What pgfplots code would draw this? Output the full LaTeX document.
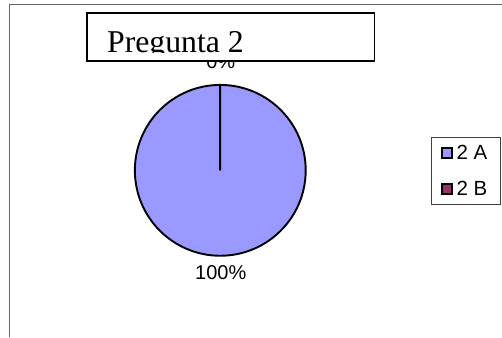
\documentclass[border=0pt]{standalone}
\usepackage{fontspec}
\setmainfont{Liberation Sans}
\newfontfamily\titlefont{Liberation Serif}
\usepackage{pgfplots}
\pgfplotsset{compat=1.18}
\usepackage{pgfplotstable}

\definecolor{pieA}{HTML}{9999FF}
\definecolor{pieB}{HTML}{993366}

% respuestas de la pregunta 2
\pgfplotstableread{
serie valor
{2 A} 100
{2 B} 0
}\datos

\pgfplotstablegetelem{0}{valor}\of\datos \edef\va{\pgfplotsretval}
\pgfplotstablegetelem{1}{valor}\of\datos \edef\vb{\pgfplotsretval}
\pgfmathsetmacro\total{\va+\vb}
\pgfmathsetmacro\fa{\va/\total}
\pgfmathsetmacro\fb{\vb/\total}
\pgfmathsetmacro\angA{90-360*\fa}
\pgfmathsetmacro\angB{\angA-360*\fb}
\pgfmathtruncatemacro\pctA{round(100*\fa)}
\pgfmathtruncatemacro\pctB{round(100*\fb)}

\begin{document}
\begin{tikzpicture}
\begin{axis}[
    width=502pt, height=337pt, scale only axis,
    xmin=0, xmax=502, ymin=0, ymax=337, y dir=reverse,
    hide axis, clip=false,
    legend style={at={(axis cs:431.5,137.5)}, anchor=north west,
        draw=black!75, line width=0.8pt,
        font=\fontsize{20.5}{22}\selectfont,
        inner xsep=9.5pt, inner ysep=6.5pt, row sep=18pt,
        nodes={inner xsep=3.5pt, inner ysep=1pt},
        cells={anchor=west}},
    legend image code/.code={\draw[#1, line width=1.6pt] (0pt,-5pt) rectangle (10.5pt,5pt);},
]
\path (axis cs:0,0) (axis cs:502,337);

% marco exterior
\draw[black!60, line width=1pt] (axis cs:10,337) -- (axis cs:10,5) -- (axis cs:502,5);

% sectores
\filldraw[fill=pieA, draw=black, line width=1.9pt]
    (axis cs:220.5,170.5) -- ++(90:85.5pt) arc[start angle=90, end angle=\angA, radius=85.5pt] -- cycle;
\filldraw[fill=pieB, draw=black, line width=1.9pt]
    (axis cs:220.5,170.5) -- ++(\angA:85.5pt) arc[start angle=\angA, end angle=\angB, radius=85.5pt] -- cycle;

% etiquetas de porcentaje
\node[anchor=base, inner sep=0, font=\fontsize{20}{22}\selectfont] at (axis cs:221,280) {\pctA\%};
\node[anchor=base, inner sep=0, font=\fontsize{20}{22}\selectfont] at (axis cs:221,69) {\pctB\%};

% titulo
\filldraw[fill=white, draw=black, line width=1.4pt] (axis cs:87,13) rectangle (axis cs:375,61);
\begin{scope}
\clip (axis cs:88,14) rectangle (axis cs:374,53);
\node[anchor=base west, inner sep=0, font=\titlefont\fontsize{31.8}{36}\selectfont] at (axis cs:107,52.5) {Pregunta 2};
\end{scope}

\addlegendimage{fill=pieA, draw=black}
\addlegendentry{2 A}
\addlegendimage{fill=pieB, draw=black}
\addlegendentry{2 B}
\end{axis}
\end{tikzpicture}
\end{document}
